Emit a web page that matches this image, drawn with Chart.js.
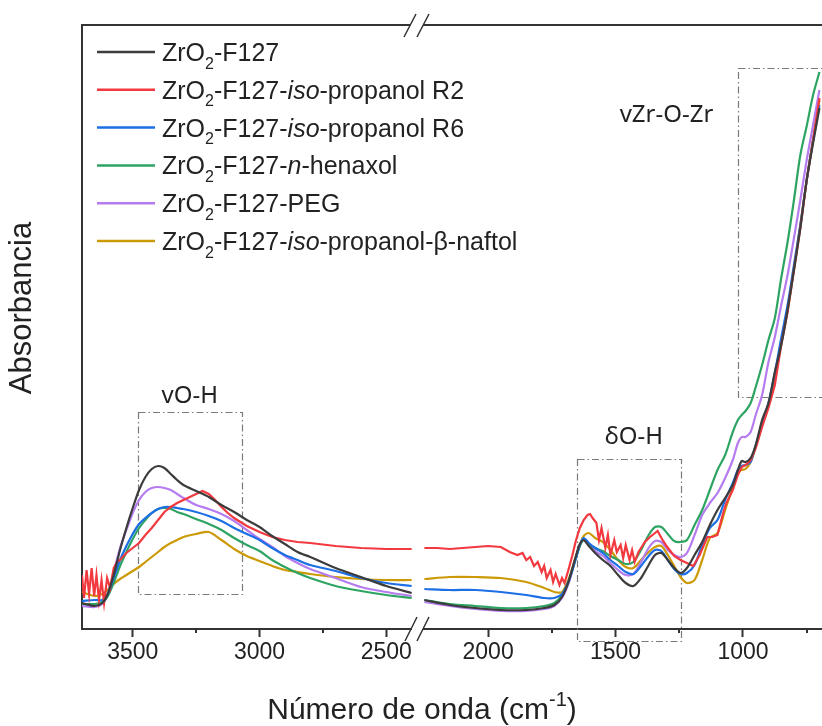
<!DOCTYPE html>
<html lang="es">
<head>
  <meta charset="UTF-8" />
  <title>FTIR ZrO2-F127</title>
  <script src="https://cdn.jsdelivr.net/npm/chart.js"></script>
  <style>
    html, body { margin: 0; padding: 0; background: #fff; }
    #wrap { width: 822px; height: 726px; }
  </style>
</head>
<body>
  <div id="wrap"><canvas id="ftir" width="822" height="726"></canvas></div>

  <script>
    // wavenumber grids (cm-1), left panel 3700-2400, right panel 2250-700
    const leftWN = [3700, 3650, 3620, 3600, 3575, 3550, 3525, 3500, 3475, 3450,
                    3425, 3400, 3375, 3350, 3325, 3300, 3250, 3200, 3150, 3100,
                    3050, 3000, 2950, 2900, 2850, 2800, 2700, 2600, 2500, 2400];
    const rightWN = [2250, 2150, 2050, 1950, 1850, 1780, 1740, 1710, 1685, 1660,
                     1640, 1625, 1605, 1580, 1550, 1520, 1490, 1460, 1430, 1400,
                     1370, 1345, 1320, 1295, 1270, 1245, 1220, 1190, 1160, 1130,
                     1100, 1070, 1040, 1020, 1005, 990, 970, 950, 925, 900,
                     875, 850, 825, 800, 775, 750, 725, 700];
    // the R2 sample is noisy, so it has its own finer grid
    const redLeftWN = [3700, 3692, 3682, 3672, 3662, 3652, 3643, 3633, 3623, 3613,
                       3601, 3589, 3575, 3562, 3550, 3525, 3500, 3475, 3450, 3425,
                       3400, 3375, 3350, 3325, 3300, 3275, 3250, 3225, 3200, 3175,
                       3150, 3125, 3100, 3050, 3000, 2950, 2900, 2850, 2800, 2700,
                       2600, 2500, 2400];
    const redRightWN = [2250, 2200, 2150, 2100, 2050, 2000, 1950, 1915, 1885, 1865,
                        1850, 1835, 1820, 1805, 1790, 1780, 1770, 1755, 1745, 1735,
                        1720, 1710, 1700, 1685, 1670, 1655, 1640, 1625, 1610, 1600,
                        1590, 1575, 1565, 1555, 1540, 1530, 1520, 1505, 1495, 1480,
                        1470, 1460, 1445, 1435, 1425, 1410, 1400, 1385, 1365, 1345,
                        1335, 1320, 1300, 1270, 1245, 1220, 1195, 1170, 1140, 1120,
                        1100, 1080, 1065, 1040, 1020, 1005, 990, 970, 950, 925,
                        900, 875, 850, 825, 800, 775, 750, 725, 700];

    // absorbance (a.u.)
    const f127Left = [0.26, 0.23, 0.26, 0.34, 0.54, 0.79, 1.01, 1.21, 1.39, 1.52,
                      1.60, 1.63, 1.61, 1.55, 1.49, 1.44, 1.38, 1.32, 1.24, 1.17,
                      1.09, 1.02, 0.93, 0.85, 0.77, 0.72, 0.61, 0.52, 0.43, 0.36];
    const f127Right = [0.29, 0.24, 0.21, 0.19, 0.19, 0.21, 0.24, 0.32, 0.47, 0.69,
                       0.85, 0.89, 0.83, 0.76, 0.69, 0.63, 0.54, 0.46, 0.43, 0.51,
                       0.64, 0.74, 0.76, 0.69, 0.61, 0.56, 0.61, 0.74, 0.87, 1.04,
                       1.19, 1.31, 1.44, 1.59, 1.68, 1.67, 1.71, 1.84, 2.09, 2.26,
                       2.57, 2.84, 3.19, 3.59, 4.01, 4.49, 4.86, 5.21];

    const r2Left = [0.54, 0.31, 0.59, 0.35, 0.61, 0.33, 0.54, 0.29, 0.49, 0.26,
                    0.51, 0.41, 0.61, 0.67, 0.69, 0.76, 0.81, 0.86, 0.94, 1.01,
                    1.09, 1.17, 1.22, 1.26, 1.29, 1.32, 1.35, 1.38, 1.35, 1.29,
                    1.22, 1.16, 1.11, 1.03, 0.97, 0.92, 0.89, 0.87, 0.86, 0.83,
                    0.81, 0.80, 0.80];
    const r2Right = [0.81, 0.81, 0.80, 0.81, 0.82, 0.83, 0.82, 0.77, 0.74, 0.76,
                     0.69, 0.72, 0.63, 0.67, 0.57, 0.63, 0.51, 0.59, 0.47, 0.55,
                     0.44, 0.51, 0.46, 0.59, 0.73, 0.89, 1.01, 1.09, 1.14, 1.15,
                     1.11, 1.06, 0.89, 1.01, 0.81, 0.94, 0.74, 0.89, 0.77, 0.84,
                     0.71, 0.84, 0.69, 0.79, 0.67, 0.77, 0.81, 0.87, 0.92, 0.96,
                     0.98, 0.91, 0.83, 0.73, 0.69, 0.66, 0.63, 0.74, 0.92, 0.92,
                     0.94, 1.14, 1.26, 1.39, 1.54, 1.62, 1.64, 1.69, 1.81, 2.02,
                     2.21, 2.44, 2.84, 3.17, 3.59, 4.01, 4.49, 4.89, 5.31];

    const r6Left = [0.28, 0.29, 0.29, 0.34, 0.51, 0.69, 0.83, 0.95, 1.05, 1.11,
                    1.16, 1.20, 1.22, 1.22, 1.21, 1.20, 1.17, 1.13, 1.08, 1.01,
                    0.95, 0.89, 0.81, 0.74, 0.69, 0.64, 0.58, 0.51, 0.46, 0.43];
    const r6Right = [0.40, 0.39, 0.39, 0.37, 0.34, 0.31, 0.31, 0.35, 0.47, 0.67,
                     0.84, 0.91, 0.86, 0.81, 0.76, 0.69, 0.63, 0.57, 0.55, 0.63,
                     0.73, 0.79, 0.78, 0.69, 0.60, 0.55, 0.56, 0.64, 0.84, 1.01,
                     1.09, 1.29, 1.46, 1.59, 1.63, 1.64, 1.67, 1.84, 2.04, 2.26,
                     2.56, 2.91, 3.24, 3.64, 4.04, 4.49, 4.89, 5.24];

    const hexLeft = [0.25, 0.25, 0.27, 0.32, 0.46, 0.63, 0.77, 0.90, 1.01, 1.09,
                     1.16, 1.20, 1.21, 1.20, 1.17, 1.15, 1.10, 1.05, 0.99, 0.91,
                     0.84, 0.78, 0.69, 0.62, 0.56, 0.51, 0.43, 0.38, 0.34, 0.31];
    const hexRight = [0.29, 0.25, 0.23, 0.21, 0.21, 0.23, 0.26, 0.34, 0.47, 0.67,
                      0.83, 0.89, 0.85, 0.81, 0.78, 0.73, 0.69, 0.65, 0.67, 0.79,
                      0.94, 1.02, 1.02, 0.95, 0.88, 0.87, 0.89, 1.04, 1.19, 1.39,
                      1.59, 1.74, 1.97, 2.09, 2.14, 2.18, 2.26, 2.42, 2.64, 2.89,
                      3.11, 3.51, 3.87, 4.29, 4.74, 5.03, 5.34, 5.57];

    const pegLeft = [0.23, 0.22, 0.25, 0.34, 0.57, 0.81, 0.99, 1.16, 1.29, 1.37,
                     1.41, 1.42, 1.41, 1.39, 1.35, 1.31, 1.24, 1.20, 1.15, 1.08,
                     0.99, 0.90, 0.82, 0.73, 0.66, 0.60, 0.51, 0.42, 0.37, 0.33];
    const pegRight = [0.27, 0.23, 0.20, 0.18, 0.18, 0.20, 0.23, 0.31, 0.45, 0.67,
                      0.84, 0.90, 0.85, 0.78, 0.73, 0.66, 0.59, 0.54, 0.55, 0.67,
                      0.81, 0.88, 0.87, 0.79, 0.74, 0.72, 0.76, 0.94, 1.14, 1.26,
                      1.36, 1.51, 1.69, 1.86, 1.92, 1.92, 1.97, 2.14, 2.34, 2.67,
                      2.92, 3.24, 3.54, 3.91, 4.29, 4.69, 5.04, 5.39];

    const naftLeft = [0.37, 0.33, 0.35, 0.39, 0.45, 0.50, 0.54, 0.58, 0.62, 0.67,
                      0.72, 0.77, 0.82, 0.86, 0.89, 0.92, 0.95, 0.97, 0.89, 0.80,
                      0.73, 0.68, 0.63, 0.59, 0.57, 0.55, 0.52, 0.50, 0.49, 0.49];
    const naftRight = [0.50, 0.52, 0.52, 0.51, 0.47, 0.41, 0.37, 0.37, 0.49, 0.69,
                       0.84, 0.93, 0.96, 0.91, 0.87, 0.79, 0.69, 0.62, 0.61, 0.69,
                       0.77, 0.82, 0.83, 0.74, 0.63, 0.52, 0.46, 0.49, 0.69, 0.91,
                       0.96, 1.19, 1.42, 1.57, 1.59, 1.60, 1.67, 1.82, 2.04, 2.24,
                       2.49, 2.87, 3.19, 3.61, 4.04, 4.49, 4.89, 5.29];

    // legend text: _{..} subscript, ^{..} superscript, *..* italic
    const seriesNames = [
      'ZrO_{2}-F127',
      'ZrO_{2}-F127-*iso*-propanol R2',
      'ZrO_{2}-F127-*iso*-propanol R6',
      'ZrO_{2}-F127-*n*-henaxol',
      'ZrO_{2}-F127-PEG',
      'ZrO_{2}-F127-*iso*-propanol-β-naftol'
    ];
    const seriesColors = ['#3c3c3c', '#f2393f', '#1c6fe4', '#2ea463', '#b57cf0', '#cc9a06'];

    // tick values per panel
    const majorTicksL = [3500, 3000, 2500];
    const majorTicksR = [2000, 1500, 1000];
    const minorTicksL = [3250, 2750];
    const minorTicksR = [1750, 1250, 750];

    // band regions marked on the spectrum
    const regionNames = ['vO-H', 'δO-H', 'vZr-O-Zr'];
    const regionAxis = ['xL', 'xR', 'xR'];
    const regionFrom = [3480, 1650, 1020];
    const regionTo = [3070, 1243, 500];
    const regionTop = [2.17, 1.70, 5.61];
    const regionBottom = [0.35, -0.12, 2.32];
    const regionLabelWN = [3275, 1428, 1300];
    const regionLabelY = [2.33, 1.92, 5.14];

    const FONT = "'Liberation Sans', Arial, sans-serif";

    function pts(xs, ys) {
      return xs.map((x, i) => ({ x: x, y: ys[i] }));
    }

    const pairs = [
      [pts(leftWN, f127Left), pts(rightWN, f127Right)],
      [pts(redLeftWN, r2Left), pts(redRightWN, r2Right)],
      [pts(leftWN, r6Left), pts(rightWN, r6Right)],
      [pts(leftWN, hexLeft), pts(rightWN, hexRight)],
      [pts(leftWN, pegLeft), pts(rightWN, pegRight)],
      [pts(leftWN, naftLeft), pts(rightWN, naftRight)]
    ];

    const datasets = [];
    pairs.forEach((p, i) => {
      const noisy = i === 1;
      ['xL', 'xR'].forEach((axis, k) => {
        datasets.push({
          label: seriesNames[i],
          data: p[k],
          xAxisID: axis,
          yAxisID: 'y',
          borderColor: seriesColors[i],
          borderWidth: 2.2,
          pointRadius: 0,
          tension: noisy ? 0 : 0.3,
          fill: false
        });
      });
    });

    function parseRich(str) {
      const runs = [];
      let buf = '', italic = false, i = 0;
      const flush = () => { if (buf) { runs.push({ t: buf, it: italic, mode: 'n' }); buf = ''; } };
      while (i < str.length) {
        const c = str[i];
        if (c === '*') { flush(); italic = !italic; i++; }
        else if ((c === '_' || c === '^') && str[i + 1] === '{') {
          flush();
          const end = str.indexOf('}', i);
          runs.push({ t: str.slice(i + 2, end), it: italic, mode: c === '_' ? 'sub' : 'sup' });
          i = end + 1;
        } else { buf += c; i++; }
      }
      flush();
      return runs;
    }

    function drawRich(ctx, str, x, y, size, color, align) {
      const runs = parseRich(str);
      const fontFor = r => (r.it ? 'italic ' : '') + (r.mode === 'n' ? size : Math.round(size * 0.65)) + 'px ' + FONT;
      let total = 0;
      runs.forEach(r => { ctx.font = fontFor(r); r.w = ctx.measureText(r.t).width; total += r.w; });
      let cx = align === 'center' ? x - total / 2 : x;
      ctx.fillStyle = color;
      ctx.textAlign = 'left';
      ctx.textBaseline = 'alphabetic';
      runs.forEach(r => {
        ctx.font = fontFor(r);
        const dy = r.mode === 'sub' ? size * 0.3 : (r.mode === 'sup' ? -size * 0.42 : 0);
        ctx.fillText(r.t, cx, y + dy);
        cx += r.w;
      });
    }

    const decorations = {
      id: 'decorations',
      beforeDatasetsDraw(chart) {
        const ctx = chart.ctx, y = chart.scales.y;
        ctx.save();
        ctx.strokeStyle = '#7a7a7a';
        ctx.lineWidth = 1.2;
        ctx.setLineDash([7, 3, 1.5, 3]);
        regionNames.forEach((n, i) => {
          const sx = chart.scales[regionAxis[i]];
          const x1 = sx.getPixelForValue(regionFrom[i]);
          const x2 = sx.getPixelForValue(regionTo[i]);
          const y1 = y.getPixelForValue(regionTop[i]);
          const y2 = y.getPixelForValue(regionBottom[i]);
          ctx.strokeRect(Math.round(x1) + 0.5, Math.round(y1) + 0.5, Math.round(x2 - x1), Math.round(y2 - y1));
        });
        ctx.restore();
      },
      afterDraw(chart) {
        const ctx = chart.ctx, a = chart.chartArea, y = chart.scales.y;
        const xL = chart.scales.xL, xR = chart.scales.xR;
        ctx.save();
        ctx.strokeStyle = '#333';
        ctx.lineWidth = 2;
        ctx.setLineDash([]);

        // minor ticks
        ctx.beginPath();
        minorTicksL.forEach(v => { const px = Math.round(xL.getPixelForValue(v)); ctx.moveTo(px, a.bottom); ctx.lineTo(px, a.bottom + 4); });
        minorTicksR.forEach(v => { const px = Math.round(xR.getPixelForValue(v)); ctx.moveTo(px, a.bottom); ctx.lineTo(px, a.bottom + 4); });
        ctx.stroke();

        // top frame with break
        const bx = xL.right;
        ctx.beginPath();
        ctx.moveTo(a.left - 1, a.top); ctx.lineTo(bx - 8, a.top);
        ctx.moveTo(bx + 5, a.top); ctx.lineTo(a.right, a.top);
        ctx.stroke();

        // bottom axis break
        ctx.fillStyle = '#fff';
        ctx.fillRect(bx - 6, a.bottom - 3, 11, 6);

        ctx.lineWidth = 1.5;
        ctx.beginPath();
        [[-13, a.bottom + 12, a.bottom - 12], [-1, a.bottom + 12, a.bottom - 12],
         [-14, a.top + 12, a.top - 11], [-1, a.top + 12, a.top - 11]].forEach(s => {
          ctx.moveTo(bx + s[0], s[1]);
          ctx.lineTo(bx + s[0] + 12, s[2]);
        });
        ctx.stroke();

        // region labels
        ctx.fillStyle = '#222';
        ctx.font = "24px 'Noto Sans', sans-serif";
        ctx.textAlign = 'center';
        ctx.textBaseline = 'middle';
        regionNames.forEach((n, i) => {
          ctx.fillText(n, chart.scales[regionAxis[i]].getPixelForValue(regionLabelWN[i]), y.getPixelForValue(regionLabelY[i]));
        });

        // legend
        seriesNames.forEach((n, i) => {
          const ly = 52 + i * 37.8;
          ctx.strokeStyle = seriesColors[i];
          ctx.lineWidth = 2.5;
          ctx.beginPath();
          ctx.moveTo(97, ly); ctx.lineTo(155, ly);
          ctx.stroke();
          drawRich(ctx, n, 162, ly + 9, 25, '#222', 'left');
        });

        // axis titles
        drawRich(ctx, 'Número de onda (cm^{-1})', 422, 719, 30, '#222', 'center');
        ctx.save();
        ctx.translate(22, 308);
        ctx.rotate(-Math.PI / 2);
        ctx.font = '31px ' + FONT;
        ctx.fillStyle = '#222';
        ctx.textAlign = 'center';
        ctx.textBaseline = 'middle';
        ctx.fillText('Absorbancia', 0, 0);
        ctx.restore();

        ctx.restore();
      }
    };

    function xAxis(min, max, weight, majors) {
      return {
        type: 'linear',
        position: 'bottom',
        reverse: true,
        stack: 'wn',
        stackWeight: weight,
        min: min,
        max: max,
        offset: false,
        border: { display: true, color: '#333', width: 2 },
        grid: { drawOnChartArea: false, drawTicks: true, tickLength: 8, tickColor: '#333', tickWidth: 2 },
        ticks: { color: '#222', padding: 2, maxRotation: 0, autoSkip: false,
                 font: { family: FONT, size: 23 }, callback: v => String(v) },
        afterBuildTicks: scale => { scale.ticks = majors.map(v => ({ value: v })); },
        afterFit: scale => {
          scale.height = 97;
          scale.paddingLeft = 0;
          scale.paddingRight = 0;
        }
      };
    }

    new Chart(document.getElementById('ftir'), {
      type: 'line',
      data: { datasets: datasets },
      options: {
        responsive: false,
        animation: false,
        devicePixelRatio: 1,
        layout: { padding: { left: 0, right: 0, top: 25, bottom: 0 } },
        plugins: { legend: { display: false }, tooltip: { enabled: false } },
        scales: {
          xL: xAxis(2375, 3700, 336, majorTicksL),
          xR: xAxis(690, 2275, 404, majorTicksR),
          y: {
            type: 'linear',
            position: 'left',
            min: 0,
            max: 6.04,
            ticks: { display: false },
            grid: { display: false },
            border: { display: true, color: '#333', width: 2 },
            afterFit: scale => {
              scale.width = 82;
              scale.paddingTop = 0;
              scale.paddingBottom = 0;
            }
          }
        }
      },
      plugins: [decorations]
    });
  </script>
</body>
</html>
